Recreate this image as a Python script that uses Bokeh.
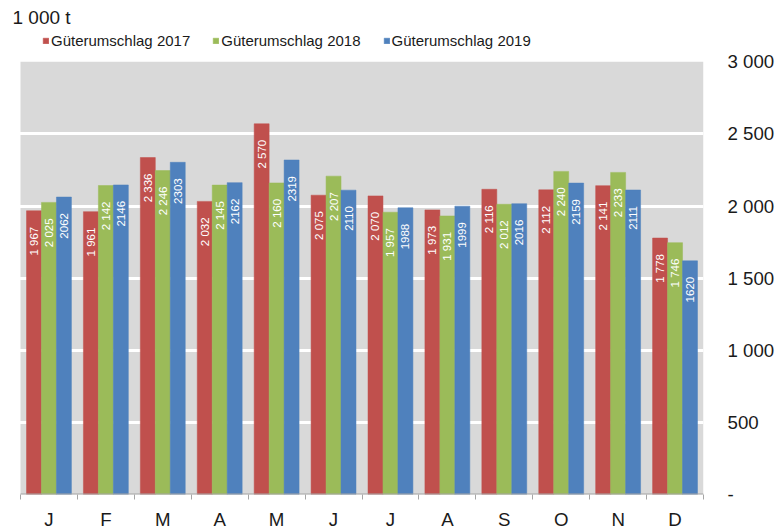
import math
from bokeh.plotting import figure
from bokeh.models import (ColumnDataSource, Range1d, FixedTicker,
                          Legend, LegendItem, Label)
from bokeh.core.properties import value
from bokeh.embed import file_html
from bokeh.resources import INLINE

months = ["J", "F", "M", "A", "M", "J", "J", "A", "S", "O", "N", "D"]
series_names = ["Güterumschlag 2017", "Güterumschlag 2018", "Güterumschlag 2019"]
v2017 = [1967, 1961, 2336, 2032, 2570, 2075, 2070, 1973, 2116, 2112, 2141, 1778]
v2018 = [2025, 2142, 2246, 2145, 2160, 2207, 1957, 1931, 2012, 2240, 2233, 1746]
v2019 = [2062, 2146, 2303, 2162, 2319, 2110, 1988, 1999, 2016, 2159, 2111, 1620]
y_ticks = [0, 500, 1000, 1500, 2000, 2500, 3000]
y_tick_labels = ["-", "500", "1 000", "1 500", "2 000", "2 500", "3 000"]
unit_label = "1 000 t"

colors = ["#C0504D", "#9BBB59", "#4F81BD"]
FONT = "Liberation Sans"

n = len(months)
y_max = y_ticks[-1]
# frame spans the whole top area; the gray plot area is a background band
FRAME_LEFT, FRAME_RIGHT, FRAME_TOP, FRAME_BOTTOM = 12, 703, 0, 500
PLOT_LEFT, PLOT_TOP = 20, 62
px_per_cat = (FRAME_RIGHT - PLOT_LEFT) / n
x_start = -(PLOT_LEFT - FRAME_LEFT) / px_per_cat
y_end = y_max * (FRAME_BOTTOM - FRAME_TOP) / (FRAME_BOTTOM - PLOT_TOP)

p = figure(width=778, height=532, output_backend="svg", toolbar_location=None,
           x_range=Range1d(x_start, n), y_range=Range1d(0, y_end),
           min_border_left=FRAME_LEFT, min_border_right=778 - FRAME_RIGHT,
           min_border_top=FRAME_TOP, min_border_bottom=532 - FRAME_BOTTOM,
           y_axis_location="right")
p.background_fill_color = "white"
p.border_fill_color = "white"
p.outline_line_color = None

# gray plot area background
bg = p.quad(left=[0], right=[n], bottom=[0], top=[y_max],
            fill_color="#D9D9D9", line_color=None)
bg.level = "image"

def fmt_space(v):
    return f"{v:,}".replace(",", " ")

bar_w = 0.263
offsets = [-bar_w, 0.0, bar_w]
series = [v2017, v2018, v2019]
label_fmts = [fmt_space, fmt_space, str]
renderers = []
for vals, off, col, lf in zip(series, offsets, colors, label_fmts):
    xs = [i + 0.5 + off for i in range(n)]
    src = ColumnDataSource(dict(x=xs, top=vals, lab=[lf(v) for v in vals]))
    r = p.vbar(x="x", top="top", width=bar_w, bottom=0, source=src,
               fill_color=col, line_color=col, line_width=0.5)
    renderers.append(r)
    p.text(x="x", y="top", text="lab", source=src, angle=math.pi / 2,
           text_align="right", text_baseline="middle", y_offset=16,
           text_color="white", text_font=value(FONT), text_font_size="11.5px")

# grid
p.xgrid.visible = False
p.ygrid.ticker = FixedTicker(ticks=y_ticks[1:-1])
p.ygrid.grid_line_color = "white"
p.ygrid.grid_line_width = 3

# y axis (right)
ya = p.yaxis[0]
ya.ticker = FixedTicker(ticks=y_ticks)
ya.major_label_overrides = {t: l for t, l in zip(y_ticks, y_tick_labels)}
ya.axis_line_color = None
ya.major_tick_line_color = None
ya.minor_tick_line_color = None
ya.major_label_standoff = 18
ya.major_label_text_font = FONT
ya.major_label_text_font_size = "18.7px"
ya.major_label_text_color = "#1a1a1a"

# x axis
xa = p.xaxis[0]
centers = [i + 0.5 for i in range(n)]
xa.ticker = FixedTicker(ticks=centers, minor_ticks=list(range(n + 1)))
xa.major_label_overrides = {c: m for c, m in zip(centers, months)}
xa.axis_line_color = None
xa.major_tick_line_color = None
xa.minor_tick_line_color = "#A6A6A6"
xa.minor_tick_in = 0
xa.minor_tick_out = 5
xa.major_tick_out = 5
xa.major_tick_in = 0
xa.major_label_standoff = 9
xa.major_label_text_font = FONT
xa.major_label_text_font_size = "18.7px"
xa.major_label_text_color = "#1a1a1a"

# axis baseline across the plot area only
p.segment(x0=[0], x1=[n], y0=[0], y1=[0], line_color="#A6A6A6", line_width=2)

legend = Legend(items=[LegendItem(label=s, renderers=[r]) for s, r in zip(series_names, renderers)],
                orientation="horizontal", location=(30, 445),
                glyph_width=7, glyph_height=7, label_standoff=2, spacing=22,
                padding=0, margin=0, border_line_color=None,
                background_fill_alpha=0, label_text_font=FONT,
                label_text_font_size="15px", label_text_color="#1a1a1a",
                label_height=16)
p.add_layout(legend, "center")

title = Label(x=0, y=477, x_units="screen", y_units="screen", text=unit_label,
              text_font=FONT, text_font_size="19px", text_color="#1a1a1a",
              text_baseline="alphabetic")
p.add_layout(title)

open("out.html", "w").write(file_html(p, INLINE))
